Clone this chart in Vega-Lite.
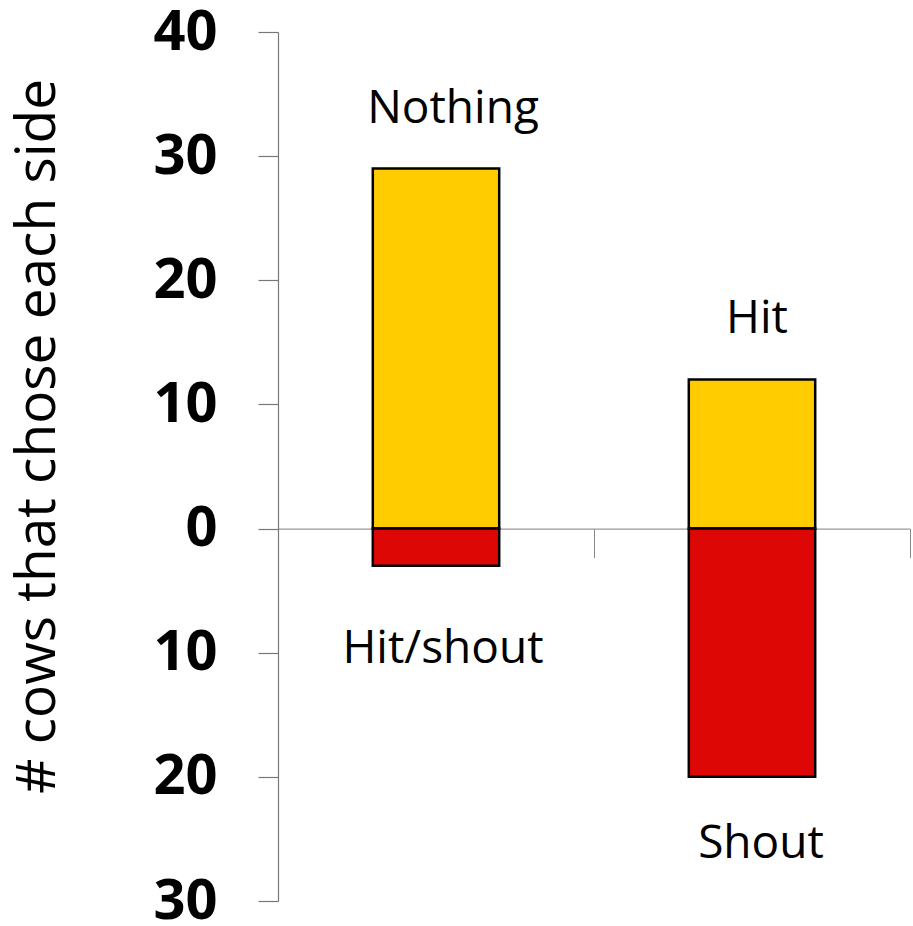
{
  "$schema": "https://vega.github.io/schema/vega-lite/v6.json",
  "autosize": {"type": "none"},
  "padding": {"left": 278, "top": 32, "right": 3, "bottom": 25},
  "width": 632,
  "height": 869,
  "background": "white",
  "config": {"view": {"stroke": null}, "font": "Open Sans"},
  "data": {
    "values": [
      {"group": "Left", "label": "Nothing", "side": "upper", "cows": 29},
      {"group": "Left", "label": "Hit/shout", "side": "lower", "cows": -3},
      {"group": "Right", "label": "Hit", "side": "upper", "cows": 12},
      {"group": "Right", "label": "Shout", "side": "lower", "cows": -20}
    ]
  },
  "encoding": {
    "x": {
      "field": "group",
      "type": "nominal",
      "sort": ["Left", "Right"],
      "scale": {"paddingInner": 0, "paddingOuter": 0},
      "axis": {
        "title": null,
        "labels": false,
        "tickBand": "extent",
        "tickSize": 29,
        "tickColor": "#888888",
        "tickWidth": 1,
        "domainColor": "#999999",
        "domainWidth": 1.2,
        "offset": -372.4,
        "zindex": 0
      }
    },
    "y": {
      "field": "cows",
      "type": "quantitative",
      "scale": {"domain": [-30, 40], "nice": false, "zero": false},
      "axis": {
        "title": "# cows that chose each side",
        "titleFont": "Open Sans",
        "titleFontSize": 55,
        "titleFontWeight": "normal",
        "titleColor": "black",
        "titleAngle": -90,
        "titleX": -224,
        "titleY": 404,
        "titleAlign": "center",
        "titleBaseline": "alphabetic",
        "values": [-30, -20, -10, 0, 10, 20, 30, 40],
        "labelExpr": "format(abs(datum.value), 'd')",
        "labelFont": "Open Sans",
        "labelFontSize": 56,
        "labelFontWeight": "bold",
        "labelColor": "black",
        "labelPadding": 41,
        "labelBaseline": "middle",
        "tickSize": 20,
        "tickColor": "#777777",
        "tickWidth": 1.2,
        "domainColor": "#777777",
        "domainWidth": 1.2,
        "grid": false
      }
    }
  },
  "layer": [
    {
      "mark": {"type": "bar", "width": {"band": 0.4}, "stroke": "black", "strokeWidth": 2.5},
      "encoding": {
        "color": {
          "field": "side",
          "type": "nominal",
          "scale": {"domain": ["upper", "lower"], "range": ["#FFCC00", "#DD0806"]},
          "legend": null
        }
      }
    },
    {
      "transform": [{"filter": "datum.label === 'Nothing'"}],
      "mark": {"type": "text", "fontSize": 46, "font": "Open Sans", "color": "black", "baseline": "alphabetic", "align": "center", "dx": 17, "dy": -46},
      "encoding": {"text": {"field": "label"}}
    },
    {
      "transform": [{"filter": "datum.label === 'Hit'"}],
      "mark": {"type": "text", "fontSize": 46, "font": "Open Sans", "color": "black", "baseline": "alphabetic", "align": "center", "dx": 5, "dy": -47},
      "encoding": {"text": {"field": "label"}}
    },
    {
      "transform": [{"filter": "datum.label === 'Hit/shout'"}],
      "mark": {"type": "text", "fontSize": 46, "font": "Open Sans", "color": "black", "baseline": "alphabetic", "align": "center", "dx": 7, "dy": 97},
      "encoding": {"text": {"field": "label"}}
    },
    {
      "transform": [{"filter": "datum.label === 'Shout'"}],
      "mark": {"type": "text", "fontSize": 46, "font": "Open Sans", "color": "black", "baseline": "alphabetic", "align": "center", "dx": 9, "dy": 81},
      "encoding": {"text": {"field": "label"}}
    }
  ]
}
